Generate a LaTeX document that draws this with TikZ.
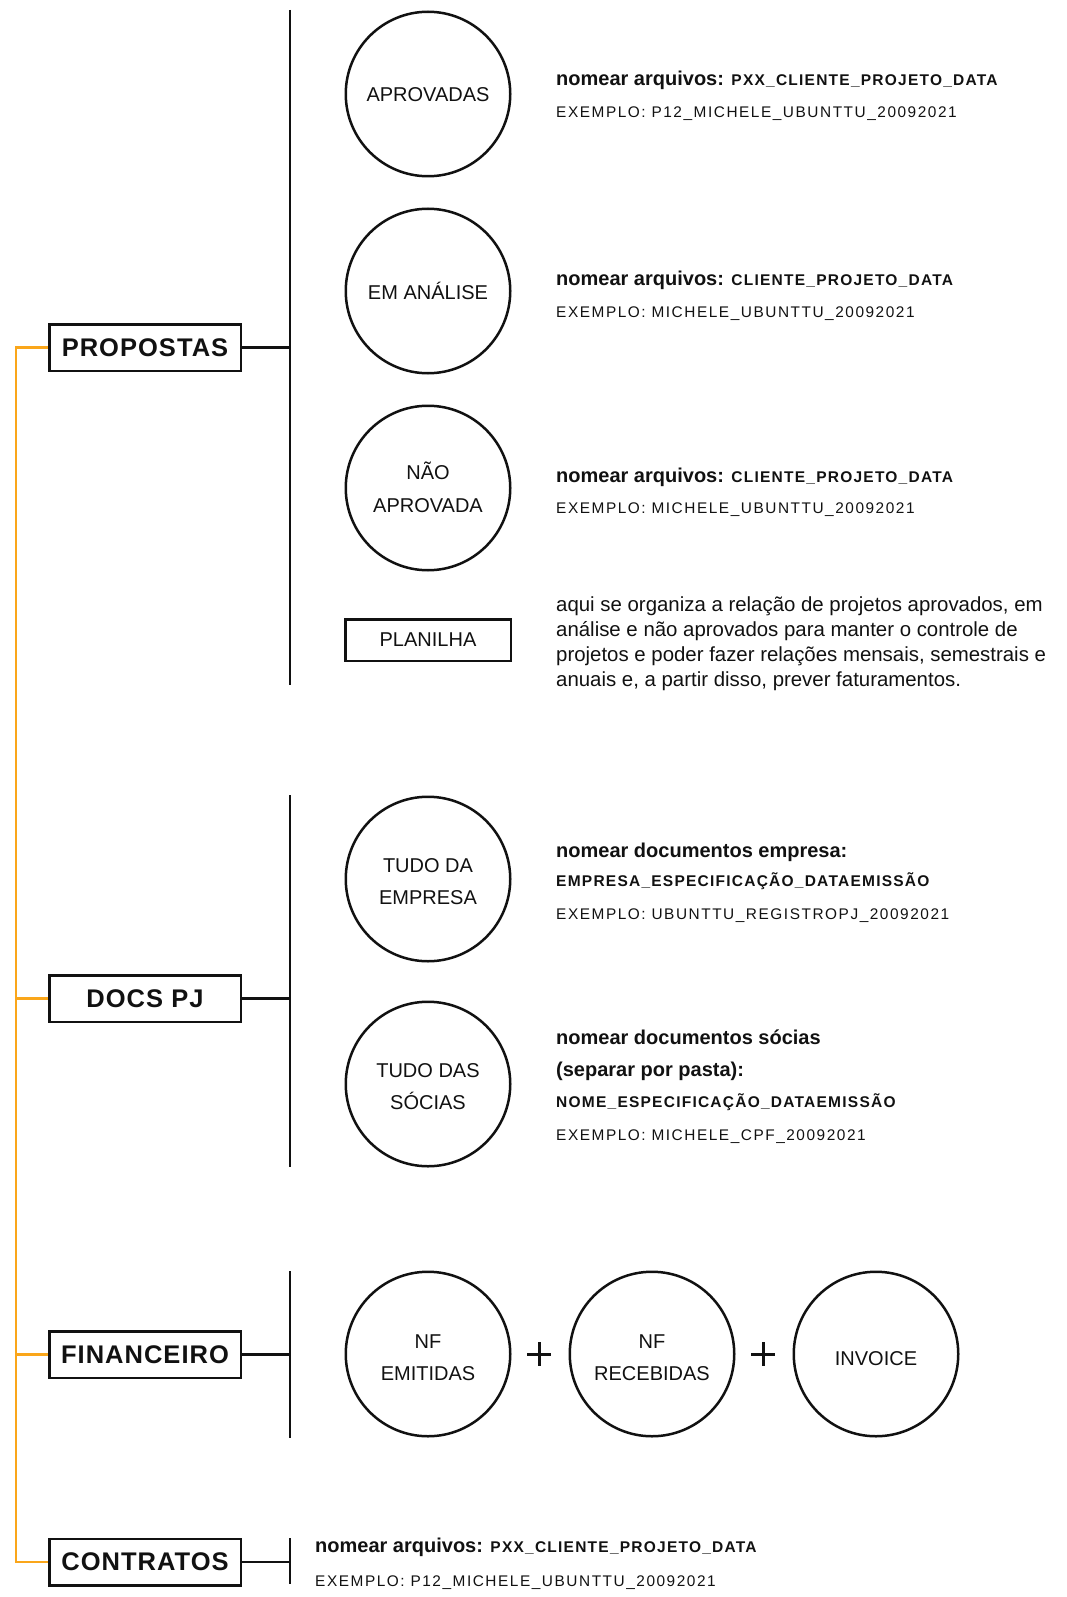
\documentclass[tikz,border=0pt]{standalone}
\usepackage{fontspec}
\setmainfont{Liberation Sans}
\newfontfamily\titlefont[LetterSpace=4]{Liberation Sans}
\newfontfamily\codefont[LetterSpace=8]{Liberation Sans}
\newfontfamily\exfont[LetterSpace=10]{Liberation Sans}
\definecolor{orng}{RGB}{250,166,26}
\definecolor{ink}{RGB}{17,17,17}
\begin{document}
\begin{tikzpicture}[x=1pt,y=-1pt,
  titlebox/.style={draw=ink, line width=2.5pt, minimum width=191.5pt, minimum height=46.5pt, inner sep=0pt, text=ink, font=\titlefont\bfseries\fontsize{25.5}{30}\selectfont},
  circ/.style={draw=ink, circle, line width=2.5pt, minimum size=164.5pt, inner sep=0pt},
  smallbox/.style={draw=ink, line width=2.5pt, minimum width=165.5pt, minimum height=41.5pt, inner sep=0pt, text=ink, font=\fontsize{20}{24}\selectfont},
  lbl/.style={anchor=base, inner sep=0pt, text=ink, font=\fontsize{20}{24}\selectfont},
  txt/.style={anchor=base west, inner sep=0pt, text=ink, font=\fontsize{20}{25}\selectfont},
  prose/.style={txt, font=\fontsize{20.4}{25}\selectfont},
  vline/.style={draw=ink, line width=2.8pt},
  conn/.style={draw=ink, line width=2.2pt},
  oline/.style={draw=orng, line width=2.4pt},
  plus/.style={draw=ink, line width=3pt}
]
\useasboundingbox (0,0) rectangle (1066,1597);
\newcommand{\code}[1]{{\codefont\bfseries\fontsize{15.5}{20}\selectfont #1}}
\newcommand{\exmp}[1]{{\exfont\fontsize{15.4}{20}\selectfont #1}}

% title boxes
\node[titlebox] (prop) at (145,347.5) {PROPOSTAS};
\node[titlebox] (docs) at (145,998.5) {DOCS PJ};
\node[titlebox] (fin) at (145,1354.5) {FINANCEIRO};
\node[titlebox] (contr) at (145,1562) {CONTRATOS};

% vertical lines
\coordinate (v1t) at (290,10);   \coordinate (v1b) at (290,685);
\coordinate (v2t) at (290,795);  \coordinate (v2b) at (290,1167);
\coordinate (v3t) at (290,1271); \coordinate (v3b) at (290,1438);
\coordinate (v4t) at (290,1538); \coordinate (v4b) at (290,1584);
\draw[vline] (v1t) -- (v1b);
\draw[vline] (v2t) -- (v2b);
\draw[vline] (v3t) -- (v3b);
\draw[vline] (v4t) -- (v4b);
\draw[conn] (prop.east) -- (prop.east -| v1t);
\draw[conn] (docs.east) -- (docs.east -| v2t);
\draw[conn] (fin.east) -- (fin.east -| v3t);
\draw[conn] (contr.east) -- (contr.east -| v4t);

% orange spine
\coordinate (ox) at (16,0);
\draw[oline] (prop.west) -- (prop.west -| ox) -- (contr.west -| ox) -- (contr.west);
\draw[oline] (docs.west -| ox) -- (docs.west);
\draw[oline] (fin.west -| ox) -- (fin.west);

% PROPOSTAS circles
\node[circ] (aprov) at (428,94) {};
\node[lbl] (aprovt) at (428,102) {APROVADAS};
\node[circ] (anal) at (428,291) {};
\node[lbl] (analt) at (428,299) {EM ANÁLISE};
\node[circ] (naoap) at (428,488) {};
\node[lbl] (naoapt1) at (428,479) {NÃO};
\node[lbl] (naoapt2) at (428,512) {APROVADA};
\node[smallbox] (plan) at (428,640) {PLANILHA};

% PROPOSTAS texts
\node[txt] (t1a) at (556,86) {\bfseries nomear arquivos: \code{PXX\_CLIENTE\_PROJETO\_DATA}};
\node[txt] (t1b) at (556,118) {\exmp{EXEMPLO: P12\_MICHELE\_UBUNTTU\_20092021}};
\node[txt] (t2a) at (556,285) {\bfseries nomear arquivos: \code{CLIENTE\_PROJETO\_DATA}};
\node[txt] (t2b) at (556,317) {\exmp{EXEMPLO: MICHELE\_UBUNTTU\_20092021}};
\node[txt] (t3a) at (556,482) {\bfseries nomear arquivos: \code{CLIENTE\_PROJETO\_DATA}};
\node[txt] (t3b) at (556,513) {\exmp{EXEMPLO: MICHELE\_UBUNTTU\_20092021}};
\node[prose] (p1) at (556,611) {aqui se organiza a relação de projetos aprovados, em};
\node[prose] (p2) at (556,636) {análise e não aprovados para manter o controle de};
\node[prose] (p3) at (556,661) {projetos e poder fazer relações mensais, semestrais e};
\node[prose] (p4) at (556,686) {anuais e, a partir disso, prever faturamentos.};

% DOCS PJ
\node[circ] (emp) at (428,879) {};
\node[lbl] (empt1) at (428,872) {TUDO DA};
\node[lbl] (empt2) at (428,904) {EMPRESA};
\node[circ] (soc) at (428,1084) {};
\node[lbl] (soct1) at (428,1077) {TUDO DAS};
\node[lbl] (soct2) at (428,1109) {SÓCIAS};
\node[txt] (d1a) at (556,857) {\bfseries nomear documentos empresa:};
\node[txt] (d1b) at (556,886) {\code{EMPRESA\_ESPECIFICAÇÃO\_DATAEMISSÃO}};
\node[txt] (d1c) at (556,919) {\exmp{EXEMPLO: UBUNTTU\_REGISTROPJ\_20092021}};
\node[txt] (d2a) at (556,1044) {\bfseries nomear documentos sócias};
\node[txt] (d2b) at (556,1076) {\bfseries (separar por pasta):};
\node[txt] (d2c) at (556,1107) {\code{NOME\_ESPECIFICAÇÃO\_DATAEMISSÃO}};
\node[txt] (d2d) at (556,1140) {\exmp{EXEMPLO: MICHELE\_CPF\_20092021}};

% FINANCEIRO
\node[circ] (nfe) at (428,1354) {};
\node[lbl] (nfet1) at (428,1348) {NF};
\node[lbl] (nfet2) at (428,1380) {EMITIDAS};
\node[circ] (nfr) at (652,1354) {};
\node[lbl] (nfrt1) at (652,1348) {NF};
\node[lbl] (nfrt2) at (652,1380) {RECEBIDAS};
\node[circ] (inv) at (876,1354) {};
\node[lbl] (invt) at (876,1365) {INVOICE};
\draw[plus] (527,1354) -- (551,1354);
\draw[plus] (539,1342) -- (539,1366);
\draw[plus] (751,1354) -- (775,1354);
\draw[plus] (763,1342) -- (763,1366);

% CONTRATOS
\node[txt] (c1a) at (315,1552) {\bfseries nomear arquivos: \code{PXX\_CLIENTE\_PROJETO\_DATA}};
\node[txt] (c1b) at (315,1586) {\exmp{EXEMPLO: P12\_MICHELE\_UBUNTTU\_20092021}};
\end{tikzpicture}
\end{document}
